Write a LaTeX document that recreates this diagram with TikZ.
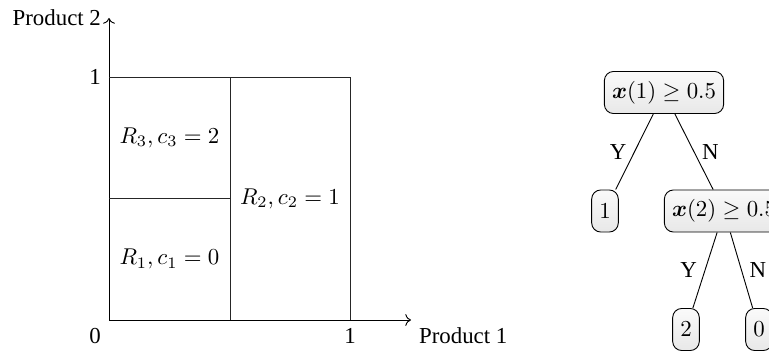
\documentclass[tikz,border=0pt]{standalone}
\usepackage{fontspec}
\setmainfont{Liberation Serif}
\usepackage{bm}
\usetikzlibrary{arrows.meta,positioning}

\begin{document}
\begin{tikzpicture}[
  x=0.4373pt,y=0.4373pt,
  every node/.style={font=\normalsize},
  leaf/.style={draw,rounded corners=4pt,top color=gray!4,bottom color=gray!18,
    minimum height=18.4pt,inner sep=3.33pt},
  split/.style={leaf},
  axis/.style={->},
  cut/.style={draw=black!85}
]
  \useasboundingbox (0,0) rectangle (769,351);
  \clip (0,0) rectangle (769,351);

  % partition of the unit square
  \coordinate (o) at (109,31);
  \coordinate (xend) at (411,31);
  \coordinate (yend) at (109,333);
  \draw[axis] (o) -- (xend);
  \draw[axis] (o) -- (yend);
  \draw[cut] (109,274) -- (350,274) -- (350,31);
  \draw[cut] (230,31) -- (230,274);
  \draw[cut] (109,152.5) -- (230,152.5);

  \node[below left] (zero) at (o) {0};
  \node[below] (xone) at (350,31) {1};
  \node[left] (yone) at (109,274) {1};
  \node[left] (ylab) at (yend) {Product 2};
  \node[below right] (xlab) at (xend) {Product 1};

  \node (rthree) at (169.5,213.5) {$R_3, c_3 = 2$};
  \node (rone) at (169.5,92) {$R_1, c_1 = 0$};
  \node (rtwo) at (290,152.5) {$R_2, c_2 = 1$};

  % decision tree
  \node[split] (root) at (664,258.5) {$\bm{x}(1) \geq 0.5$};
  \node[leaf] (one) at (605,140) {$1$};
  \node[split] (sub) at (724,140) {$\bm{x}(2) \geq 0.5$};
  \node[leaf] (two) at (686,21.5) {$2$};
  \node[leaf] (nought) at (759,21.5) {$0$};

  \draw (root) -- node[left] {Y} (one);
  \draw (root) -- node[right] {N} (sub);
  \draw (sub) -- node[left] {Y} (two);
  \draw (sub) -- node[right] {N} (nought);
\end{tikzpicture}
\end{document}
